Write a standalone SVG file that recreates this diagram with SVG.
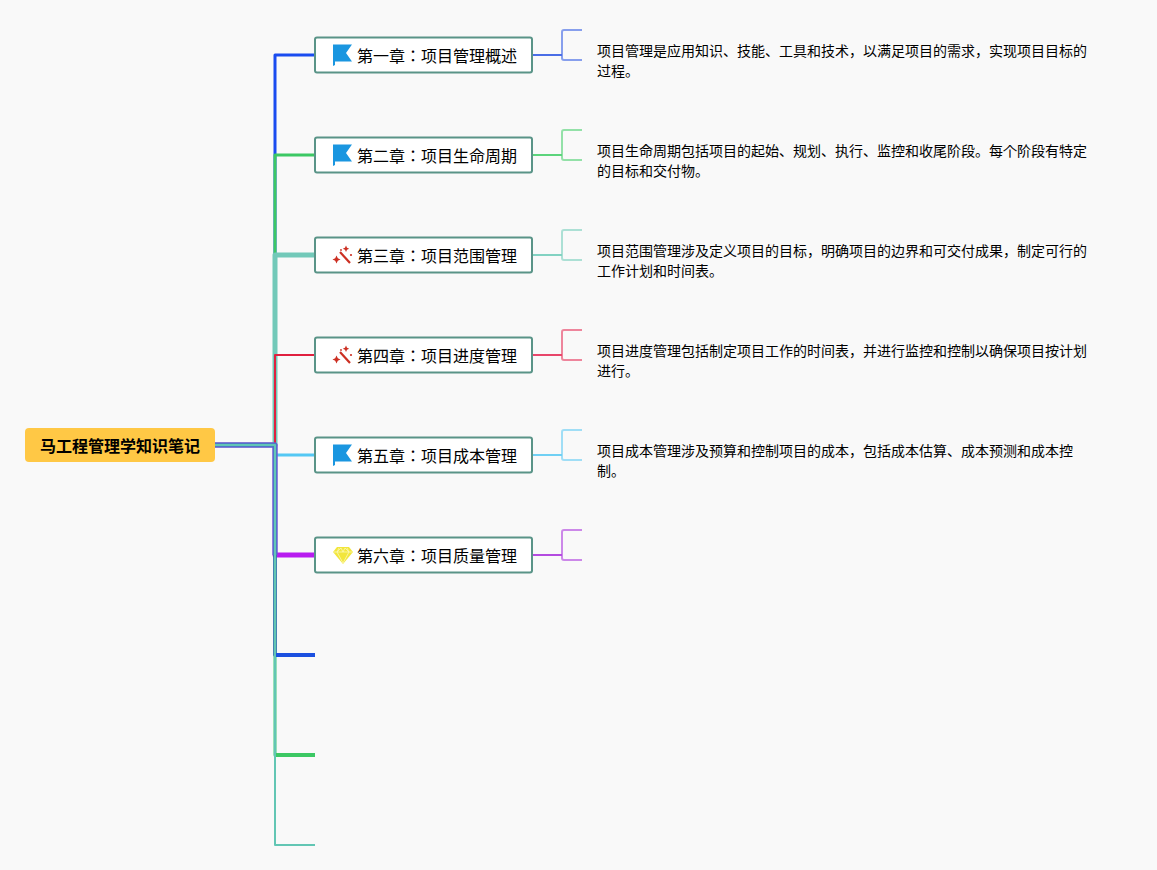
<svg xmlns="http://www.w3.org/2000/svg" width="1157" height="870" viewBox="0 0 1157 870">
<style>
text{font-family:"Noto Sans CJK JP","Noto Sans CJK SC",sans-serif;fill:#000}
.t{font-size:16px}
.d{font-size:14px}
.r{font-size:16px;font-weight:700}
.n{fill:#fff;stroke:#5a9488;stroke-width:2}
.c{fill:none;stroke-linejoin:round}
.b{fill:none;stroke-width:2;opacity:.65}
.s{fill:none;stroke-width:2}
</style>
<defs>
<g id="flag"><path d="M333 44.500H352L346 53L352 61.500H335V65L333 66Z" fill="#1a96e0"/></g>
<g id="wand" fill="#cc2f22"><path d="M340 252L350 263" fill="none" stroke="#cc2f22" stroke-width="2.200"/><path d="M336.500 255.500l1.300 2.700 2.700 1.300-2.700 1.300-1.300 2.700-1.300-2.700-2.700-1.300 2.700-1.300z"/><path d="M346 245.500l1 2.200 2.200 1-2.200 1-1 2.200-1-2.200-2.200-1 2.200-1z"/><circle cx="351" cy="255" r="1.100"/><circle cx="341" cy="250" r=".9"/></g>
<g id="gem"><path d="M337 547H349L353 552L343 564L333 552Z" fill="#f2e63c"/><path d="M333.500 552H352.500M339 548L337 552L343 563L349 552L347 548M337 552L341 548L343 552L345 548L349 552" fill="none" stroke="#fbf8b5" stroke-width=".8"/></g>
</defs>
<rect width="1157" height="870" fill="#f9f9f9"/>
<g id="connectors">
<path class="c" d="M215 445H275V55H315" stroke="#1a4cf0" stroke-width="3"/>
<path class="c" d="M215 445H275V155H315" stroke="#3cc864" stroke-width="3"/>
<path class="c" d="M215 445H275V255H315" stroke="#72c9b9" stroke-width="5"/>
<path class="c" d="M215 445H275V355H315" stroke="#e0203f" stroke-width="2"/>
<path class="c" d="M215 445H275V455H315" stroke="#54c8f4" stroke-width="3"/>
<path class="c" d="M215 445H275V555H315" stroke="#b81cf0" stroke-width="5"/>
<path class="c" d="M215 445H275V755H315" stroke="#7ad8a4" stroke-width="3.500"/>
<path class="c" d="M275 755H315" stroke="#3cc864" stroke-width="4"/>
<path class="c" d="M215 445H275V655H315" stroke="#2a66b0" stroke-width="3.500"/>
<path class="c" d="M275 655H315" stroke="#1c50e0" stroke-width="4"/>
<path class="c" d="M215 445H275V555" stroke="#4f74c8" stroke-width="5"/>
<path class="c" d="M215 445H275V845H315" stroke="#62c6b4" stroke-width="2"/>
<path class="s" d="M533 55H562" stroke="#4a6ee6"/><path class="b" d="M582 30H564Q562 30 562 32V58Q562 60 564 60H582" stroke="#4a6ee6"/>
<path class="s" d="M533 155H562" stroke="#5cd47c"/><path class="b" d="M582 130H564Q562 130 562 132V158Q562 160 564 160H582" stroke="#5cd47c"/>
<path class="s" d="M533 255H562" stroke="#82d2c2"/><path class="b" d="M582 230H564Q562 230 562 232V258Q562 260 564 260H582" stroke="#82d2c2"/>
<path class="s" d="M533 355H562" stroke="#e8466a"/><path class="b" d="M582 330H564Q562 330 562 332V358Q562 360 564 360H582" stroke="#e8466a"/>
<path class="s" d="M533 455H562" stroke="#70d0f4"/><path class="b" d="M582 430H564Q562 430 562 432V458Q562 460 564 460H582" stroke="#70d0f4"/>
<path class="s" d="M533 555H562" stroke="#b44ce0"/><path class="b" d="M582 530H564Q562 530 562 532V558Q562 560 564 560H582" stroke="#b44ce0"/>
</g>
<g id="root"><rect x="25" y="428" width="190" height="34" rx="4" fill="#ffc845"/><text class="r" x="40" y="452">马工程管理学知识笔记</text></g>
<g id="ch1"><rect class="n" x="315" y="37.500" width="217" height="35" rx="2"/><use href="#flag"/><text class="t" x="357" y="62">第一章：项目管理概述</text></g>
<g id="ch2"><rect class="n" x="315" y="137.500" width="217" height="35" rx="2"/><use href="#flag" y="100"/><text class="t" x="357" y="162">第二章：项目生命周期</text></g>
<g id="ch3"><rect class="n" x="315" y="237.500" width="217" height="35" rx="2"/><use href="#wand"/><text class="t" x="357" y="262">第三章：项目范围管理</text></g>
<g id="ch4"><rect class="n" x="315" y="337.500" width="217" height="35" rx="2"/><use href="#wand" y="100"/><text class="t" x="357" y="362">第四章：项目进度管理</text></g>
<g id="ch5"><rect class="n" x="315" y="437.500" width="217" height="35" rx="2"/><use href="#flag" y="400"/><text class="t" x="357" y="462">第五章：项目成本管理</text></g>
<g id="ch6"><rect class="n" x="315" y="537.500" width="217" height="35" rx="2"/><use href="#gem"/><text class="t" x="357" y="562">第六章：项目质量管理</text></g>
<g id="d1"><text class="d" x="597" y="56">项目管理是应用知识、技能、工具和技术，以满足项目的需求，实现项目目标的</text><text class="d" x="597" y="76">过程。</text></g>
<g id="d2"><text class="d" x="597" y="156">项目生命周期包括项目的起始、规划、执行、监控和收尾阶段。每个阶段有特定</text><text class="d" x="597" y="176">的目标和交付物。</text></g>
<g id="d3"><text class="d" x="597" y="256">项目范围管理涉及定义项目的目标，明确项目的边界和可交付成果，制定可行的</text><text class="d" x="597" y="276">工作计划和时间表。</text></g>
<g id="d4"><text class="d" x="597" y="356">项目进度管理包括制定项目工作的时间表，并进行监控和控制以确保项目按计划</text><text class="d" x="597" y="376">进行。</text></g>
<g id="d5"><text class="d" x="597" y="456">项目成本管理涉及预算和控制项目的成本，包括成本估算、成本预测和成本控</text><text class="d" x="597" y="476">制。</text></g>
</svg>
